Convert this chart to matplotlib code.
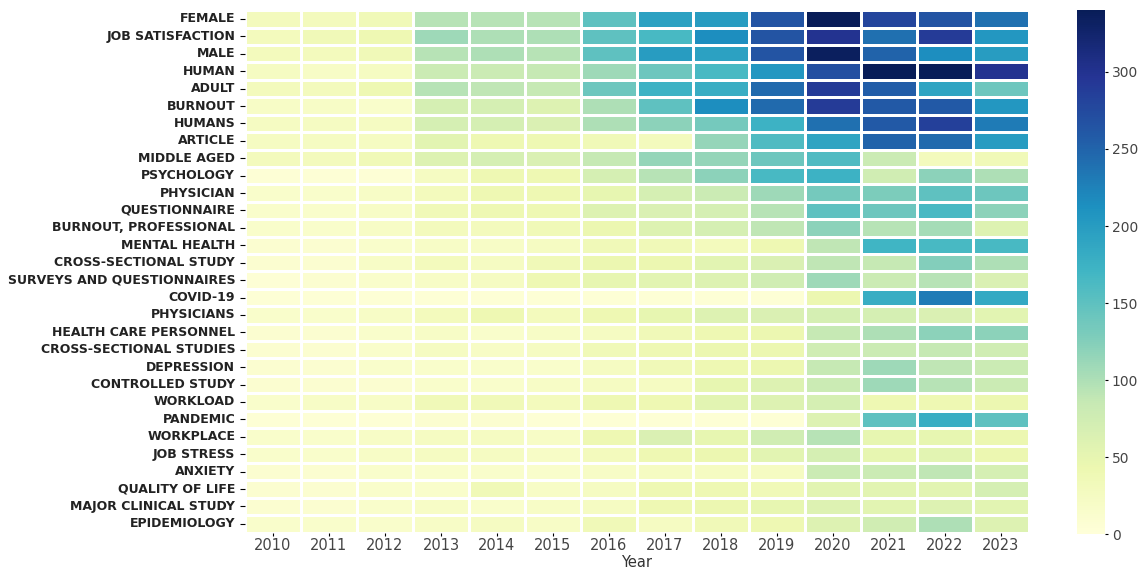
import matplotlib
matplotlib.use('agg')
import matplotlib.pyplot as plt
import numpy as np
import pandas as pd
import seaborn as sns

years = [2010, 2011, 2012, 2013, 2014, 2015, 2016, 2017, 2018, 2019, 2020, 2021, 2022, 2023]

keywords = ["FEMALE", "JOB SATISFACTION", "MALE", "HUMAN", "ADULT", "BURNOUT",
            "HUMANS", "ARTICLE", "MIDDLE AGED", "PSYCHOLOGY", "PHYSICIAN",
            "QUESTIONNAIRE", "BURNOUT, PROFESSIONAL", "MENTAL HEALTH",
            "CROSS-SECTIONAL STUDY", "SURVEYS AND QUESTIONNAIRES", "COVID-19",
            "PHYSICIANS", "HEALTH CARE PERSONNEL", "CROSS-SECTIONAL STUDIES",
            "DEPRESSION", "CONTROLLED STUDY", "WORKLOAD", "PANDEMIC", "WORKPLACE",
            "JOB STRESS", "ANXIETY", "QUALITY OF LIFE", "MAJOR CLINICAL STUDY",
            "EPIDEMIOLOGY"]

female          = [30, 30, 35, 95, 95, 95, 150, 195, 200, 265, 340, 280, 265, 240]
job_satisfaction= [30, 35, 40, 110, 100, 100, 150, 165, 215, 265, 300, 240, 290, 205]
male            = [30, 30, 35, 95, 100, 95, 150, 200, 195, 265, 335, 250, 215, 200]
human           = [25, 20, 25, 80, 80, 85, 110, 140, 165, 205, 270, 340, 340, 300]
adult           = [30, 30, 40, 95, 90, 85, 140, 175, 180, 245, 290, 255, 190, 140]
burnout         = [20, 20, 15, 70, 70, 60, 100, 150, 215, 245, 290, 260, 260, 205]
humans          = [25, 25, 25, 70, 70, 65, 100, 120, 135, 175, 240, 260, 285, 230]
article         = [25, 25, 25, 55, 40, 40, 35, 30, 115, 160, 190, 250, 245, 200]
middle_aged     = [30, 30, 35, 60, 70, 65, 85, 115, 115, 140, 160, 80, 30, 35]
psychology      = [5, 5, 5, 25, 40, 40, 70, 95, 120, 165, 175, 75, 120, 100]
physician       = [15, 15, 20, 30, 40, 40, 50, 70, 80, 110, 135, 130, 150, 140]
questionnaire   = [15, 15, 20, 35, 40, 40, 60, 65, 70, 95, 150, 140, 165, 120]
burnout_prof    = [15, 15, 20, 30, 30, 35, 45, 60, 70, 90, 120, 95, 105, 60]
mental_health   = [10, 10, 15, 20, 20, 25, 35, 35, 30, 40, 90, 170, 165, 165]
cross_study     = [10, 10, 20, 30, 25, 35, 45, 45, 55, 65, 90, 85, 125, 100]
surveys         = [5, 10, 15, 20, 25, 40, 50, 55, 60, 75, 110, 80, 95, 65]
covid19         = [5, 5, 5, 5, 5, 5, 5, 5, 5, 5, 45, 180, 230, 185]
physicians      = [15, 15, 20, 30, 40, 30, 40, 50, 60, 65, 70, 70, 65, 55]
hc_personnel    = [10, 10, 15, 20, 15, 20, 25, 35, 40, 45, 85, 100, 120, 120]
cross_studies   = [10, 10, 15, 25, 20, 25, 35, 40, 45, 45, 75, 80, 85, 75]
depression      = [10, 10, 15, 15, 15, 15, 25, 35, 40, 45, 85, 110, 90, 80]
controlled      = [10, 10, 10, 15, 15, 20, 25, 25, 50, 60, 80, 110, 95, 80]
workload        = [15, 20, 20, 35, 35, 30, 40, 40, 55, 60, 70, 40, 40, 45]
pandemic        = [5, 5, 5, 10, 10, 5, 5, 5, 5, 5, 60, 150, 180, 150]
workplace       = [15, 15, 20, 25, 25, 20, 40, 65, 50, 75, 95, 50, 50, 45]
job_stress      = [15, 15, 20, 25, 25, 20, 30, 40, 45, 55, 70, 50, 55, 45]
anxiety         = [10, 10, 15, 15, 15, 15, 20, 25, 25, 25, 80, 80, 90, 70]
quality_of_life = [10, 10, 15, 15, 35, 20, 25, 40, 40, 35, 55, 55, 55, 70]
major_clinical  = [10, 10, 15, 20, 15, 20, 25, 40, 45, 50, 60, 55, 60, 55]
epidemiology    = [15, 15, 15, 20, 25, 20, 35, 25, 35, 40, 60, 75, 100, 60]

rows = [female, job_satisfaction, male, human, adult, burnout, humans, article,
        middle_aged, psychology, physician, questionnaire, burnout_prof,
        mental_health, cross_study, surveys, covid19, physicians, hc_personnel,
        cross_studies, depression, controlled, workload, pandemic, workplace,
        job_stress, anxiety, quality_of_life, major_clinical, epidemiology]

df = pd.DataFrame(rows, index=keywords, columns=years)

fig = plt.figure(figsize=(11.42, 5.69), dpi=100)
ax = fig.add_axes([0.2145, 0.064, 0.6865, 0.918])
cax = fig.add_axes([0.943, 0.061, 0.025, 0.921])

sns.heatmap(df, ax=ax, cbar_ax=cax, cmap="YlGnBu", vmin=0, vmax=340,
            linewidths=0.8, linecolor="white")

ax.set_xlabel("Year", fontsize=10.5, color="#333333", labelpad=1)
ax.set_ylabel("")
ax.tick_params(axis="x", labelsize=10.5, labelcolor="#444444", rotation=0,
               length=2.5, pad=1.5)
ax.tick_params(axis="y", labelsize=9, labelcolor="#222222", rotation=0)
for lab in ax.get_yticklabels():
    lab.set_fontweight("bold")

cax.tick_params(labelsize=10, labelcolor="#444444", length=2.5, pad=2)
cax.set_yticks([0, 50, 100, 150, 200, 250, 300])

plt.savefig("out.png", dpi=100)
plt.close(fig)
